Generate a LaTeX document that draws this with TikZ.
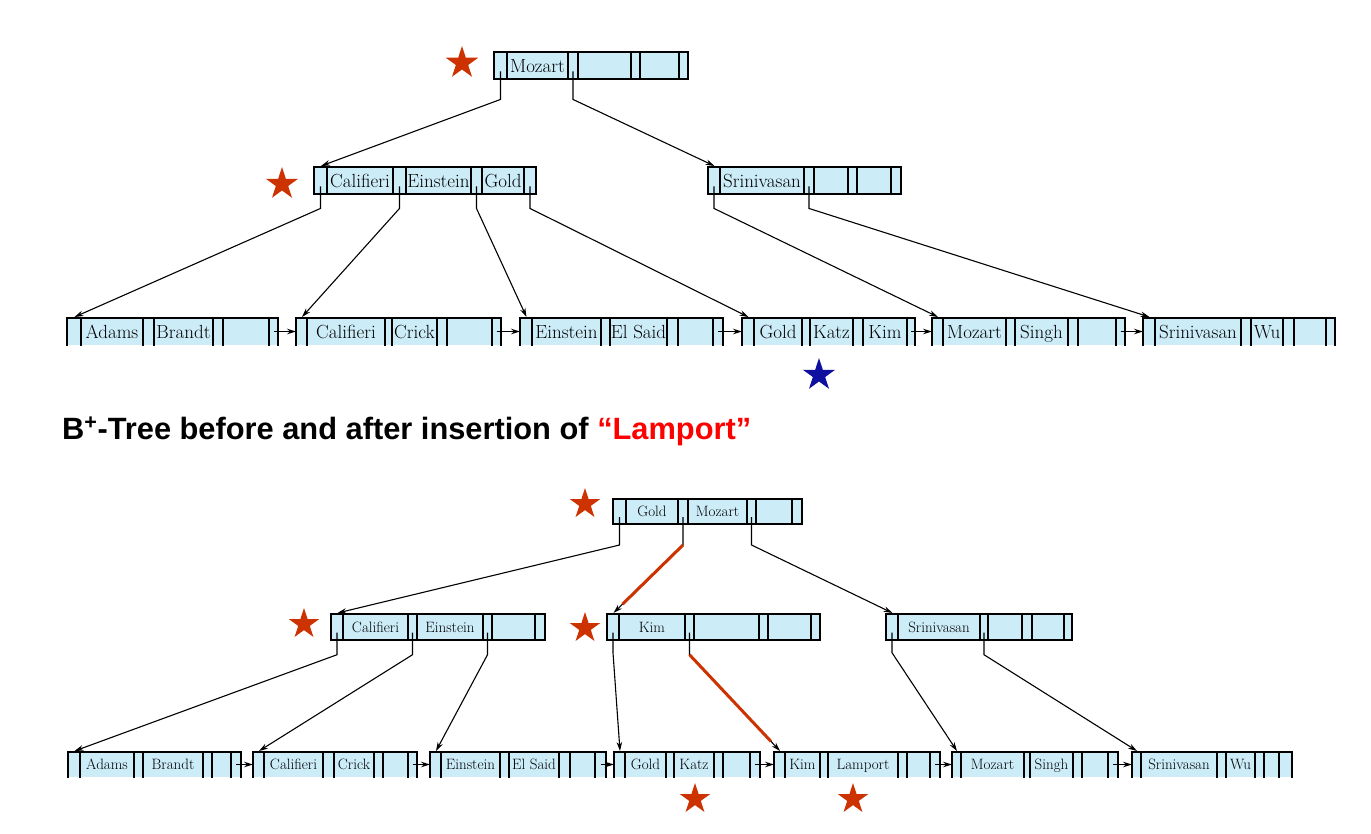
\documentclass[tikz,border=0pt]{standalone}
\usepackage{fontspec}
\newfontfamily\titlefont{Liberation Sans}
\usetikzlibrary{calc,arrows.meta,shapes.geometric}
\definecolor{cellfill}{RGB}{204,236,248}
\definecolor{starred}{RGB}{204,51,0}
\definecolor{starblue}{RGB}{16,16,160}
\definecolor{titlered}{RGB}{255,0,0}
\tikzset{
  cellline/.style={draw=black, line width=1.6pt, line cap=rect},
  keylabel/.style={anchor=base, yshift=-6.8pt, inner sep=0pt, font=\fontsize{19}{20}\selectfont},
  ptr/.style={draw=black, line width=1.1pt, -{Stealth[length=9pt,width=5.5pt]}},
  redln/.style={draw=starred, line width=3pt},
  bstar/.style={star, star points=5, star point ratio=2.618, minimum size=34pt, inner sep=0pt, fill=starred, draw=none},
}
\newcommand\bkey[5]{\def\tmpk{#5}\ifx\tmpk\empty\else\node[keylabel] (#1-k#2) at ($(#1-t#2)!0.5!(#1-t#3)+(0,0.5*#4)$) {#5};\fi}
\newcommand\bcells[7]{%
  \foreach \xx [count=\i from 0] in {#4} {\coordinate (#1-t\i) at (\xx,#2);}
  \fill[cellfill] (#1-t0) rectangle ($(#1-t7)+(0,#3)$);
  \draw[cellline] (#1-t0) -- (#1-t7);
  \foreach \i in {0,...,7} {\draw[cellline] (#1-t\i) -- ++(0,#3);}
  \bkey{#1}{1}{2}{#3}{#5}%
  \bkey{#1}{3}{4}{#3}{#6}%
  \bkey{#1}{5}{6}{#3}{#7}%
  \foreach \a/\b [count=\j from 0] in {0/1,2/3,4/5,6/7} {\coordinate (#1-p\j) at ($(#1-t\a)!0.5!(#1-t\b)+(0,0.72*#3)$);}
  \coordinate (#1-in) at ($(#1-t0)!0.5!(#1-t1)+(0.5,-1)$);
  \coordinate (#1-out) at ($(#1-t6)!0.5!(#1-t7)+(0,0.5*#3)$);
  \coordinate (#1-left) at ($(#1-t0)+(0,0.5*#3)$);
}
\newcommand\innernode[7]{\bcells{#1}{#2}{#3}{#4}{#5}{#6}{#7}\draw[cellline] ($(#1-t0)+(0,#3)$) -- ($(#1-t7)+(0,#3)$);}
\newcommand\leafnode[7]{\bcells{#1}{#2}{#3}{#4}{#5}{#6}{#7}}
\begin{document}
\begin{tikzpicture}[x=1pt,y=-1pt]
\useasboundingbox (0,0) rectangle (1371,833);
\fill[white] (0,0) rectangle (1371,833);

% ---------- top tree (before) ----------
\innernode{root}{52}{27}{494,507,568,578,631,640,679,688}{Mozart}{}{}
\innernode{cA}{167}{27}{314,327,393,406,471,482,524,536}{Califieri}{Einstein}{Gold}
\innernode{cB}{167}{27}{708,720,804,814,848,857,891,901}{Srinivasan}{}{}
\leafnode{L1}{318}{27}{67,81,143,154,213,223,269,278}{Adams}{Brandt}{}
\leafnode{L2}{318}{27}{296,307,385,392,437,447,492,501}{Califieri}{Crick}{}
\leafnode{L3}{318}{27}{520,532,601,610,667,678,713,723}{Einstein}{El Said}{}
\leafnode{L4}{318}{27}{742,754,802,810,853,863,907,915}{Gold}{Katz}{Kim}
\leafnode{L5}{318}{27}{932,943,1006,1015,1068,1078,1116,1125}{Mozart}{Singh}{}
\leafnode{L6}{318}{27}{1143,1155,1241,1251,1283,1294,1326,1335}{Srinivasan}{Wu}{}

\draw[ptr] (root-p0) -- ++(0,28) -- (cA-in);
\draw[ptr] (root-p1) -- ++(0,28) -- (cB-in);
\draw[ptr] (cA-p0) -- ++(0,22) -- (L1-in);
\draw[ptr] (cA-p1) -- ++(0,22) -- (L2-in);
\draw[ptr] (cA-p2) -- ++(0,22) -- (L3-in);
\draw[ptr] (cA-p3) -- ++(0,22) -- (L4-in);
\draw[ptr] (cB-p0) -- ++(0,22) -- (L5-in);
\draw[ptr] (cB-p1) -- ++(0,22) -- (L6-in);
\draw[ptr] (L1-out) -- (L2-left);
\draw[ptr] (L2-out) -- (L3-left);
\draw[ptr] (L3-out) -- (L4-left);
\draw[ptr] (L4-out) -- (L5-left);
\draw[ptr] (L5-out) -- (L6-left);

\node[bstar] (s1) at (462,63) {};
\node[bstar] (s2) at (282,184) {};
\node[bstar, fill=starblue] (s3) at (819,375) {};

% ---------- title ----------
\node[anchor=base west, inner sep=0pt, font=\titlefont\bfseries\fontsize{30.8}{32}\selectfont] (title) at (62,439)
  {B\textsuperscript{+}-Tree before and after insertion of \textcolor{titlered}{“Lamport”}};

% ---------- bottom tree (after) ----------
\begin{scope}[keylabel/.style={anchor=base, yshift=-5pt, inner sep=0pt, font=\fontsize{15}{16}\selectfont},
              cellline/.style={draw=black, line width=1.5pt, line cap=rect}]
\innernode{broot}{499}{25}{613,626,678,688,747,756,792,802}{Gold}{Mozart}{}
\innernode{bA}{614}{26}{331,343,408,417,483,492,535,545}{Califieri}{Einstein}{}
\innernode{bB}{614}{26}{607,619,685,694,759,768,811,820}{Kim}{}{}
\innernode{bC}{614}{26}{886,898,980,988,1022,1032,1064,1072}{Srinivasan}{}{}
\leafnode{M1}{752}{25}{68,80,134,143,203,212,231,241}{Adams}{Brandt}{}
\leafnode{M2}{752}{25}{253,264,323,334,374,383,408,417}{Califieri}{Crick}{}
\leafnode{M3}{752}{25}{430,441,500,509,559,570,595,606}{Einstein}{El Said}{}
\leafnode{M4}{752}{25}{614,625,666,674,714,723,750,760}{Gold}{Katz}{}
\leafnode{M5}{752}{25}{774,785,820,828,898,907,930,940}{Kim}{Lamport}{}
\leafnode{M6}{752}{25}{952,961,1024,1030,1073,1082,1108,1118}{Mozart}{Singh}{}
\leafnode{M7}{752}{25}{1132,1141,1217,1226,1255,1264,1279,1292}{Srinivasan}{Wu}{}
\end{scope}

\draw[ptr] (broot-p0) -- ++(0,28) -- (bA-in);
\draw[ptr] (broot-p1) -- ++(0,28) coordinate (bend1) -- (bB-in);
\draw[ptr] (broot-p2) -- ++(0,28) -- (bC-in);
\draw[ptr] (bA-p0) -- ++(0,22) -- (M1-in);
\draw[ptr] (bA-p1) -- ++(0,22) -- (M2-in);
\draw[ptr] (bA-p2) -- ++(0,22) -- (M3-in);
\draw[ptr] (bB-p0) -- ++(0,20) -- (M4-in);
\draw[ptr] (bB-p1) -- ++(0,22) coordinate (bend2) -- (M5-in);
\draw[ptr] (bC-p0) -- ++(0,20) -- (M6-in);
\draw[ptr] (bC-p1) -- ++(0,22) -- (M7-in);
\draw[redln] (bend1) -- ($(bend1)!0.87!(bB-in)$);
\draw[redln] (bend2) -- ($(bend2)!0.9!(M5-in)$);
\draw[ptr] (M1-out) -- (M2-left);
\draw[ptr] (M2-out) -- (M3-left);
\draw[ptr] (M3-out) -- (M4-left);
\draw[ptr] (M4-out) -- (M5-left);
\draw[ptr] (M5-out) -- (M6-left);
\draw[ptr] (M6-out) -- (M7-left);

\node[bstar, minimum size=32pt] (s4) at (585,504) {};
\node[bstar, minimum size=32pt] (s5) at (304,624) {};
\node[bstar, minimum size=32pt] (s6) at (585,628) {};
\node[bstar, minimum size=32pt] (s7) at (695,799) {};
\node[bstar, minimum size=32pt] (s8) at (853,799) {};
\end{tikzpicture}
\end{document}
